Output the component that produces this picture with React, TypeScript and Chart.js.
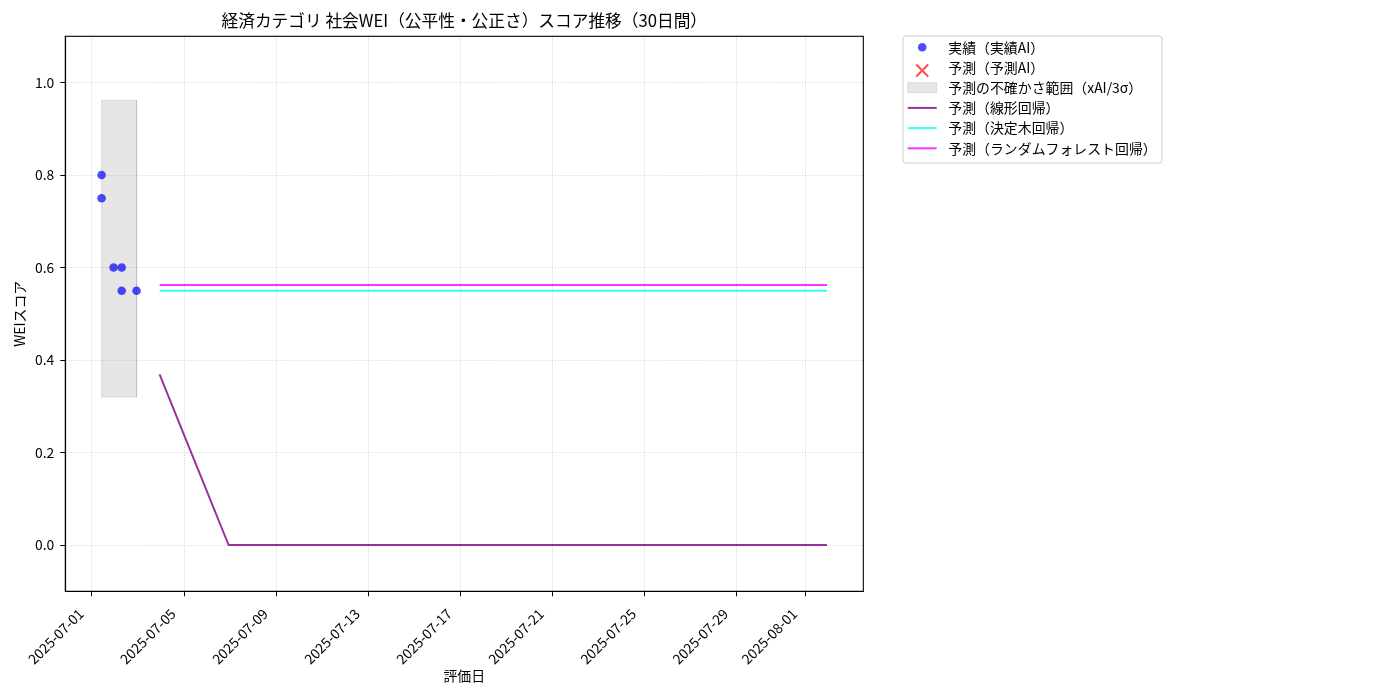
import React, { useEffect, useRef } from "react";
import { Chart, registerables } from "chart.js";

Chart.register(...registerables);

const FONT = '"Noto Sans CJK JP", "Noto Sans", sans-serif';

const chartTitle = "経済カテゴリ 社会WEI（公平性・公正さ）スコア推移（30日間）";
const xAxisTitle = "評価日";
const yAxisTitle = "WEIスコア";

// 実績（実績AI）
const actualDates = [
  "2025-07-01T10:00",
  "2025-07-01T10:00",
  "2025-07-01T22:30",
  "2025-07-02T07:00",
  "2025-07-02T07:00",
  "2025-07-02T22:30",
];
const actualScores = [0.8, 0.75, 0.6, 0.6, 0.55, 0.55];

// 予測（予測AI） - nothing plotted
const predictedDates: string[] = [];
const predictedScores: number[] = [];

// 不確かさ範囲
const bandDates = ["2025-07-01T10:00", "2025-07-02T22:30"];
const bandLower = 0.32;
const bandUpper = 0.962;

// 予測 30日
const forecastDates = [
  "2025-07-03T22:30", "2025-07-04T22:30", "2025-07-05T22:30", "2025-07-06T22:30",
  "2025-07-07T22:30", "2025-07-08T22:30", "2025-07-09T22:30", "2025-07-10T22:30",
  "2025-07-11T22:30", "2025-07-12T22:30", "2025-07-13T22:30", "2025-07-14T22:30",
  "2025-07-15T22:30", "2025-07-16T22:30", "2025-07-17T22:30", "2025-07-18T22:30",
  "2025-07-19T22:30", "2025-07-20T22:30", "2025-07-21T22:30", "2025-07-22T22:30",
  "2025-07-23T22:30", "2025-07-24T22:30", "2025-07-25T22:30", "2025-07-26T22:30",
  "2025-07-27T22:30", "2025-07-28T22:30", "2025-07-29T22:30", "2025-07-30T22:30",
  "2025-07-31T22:30", "2025-08-01T22:30",
];
const forecastLinear = [
  0.369, 0.246, 0.123, 0, 0, 0, 0, 0, 0, 0,
  0, 0, 0, 0, 0, 0, 0, 0, 0, 0,
  0, 0, 0, 0, 0, 0, 0, 0, 0, 0,
];
const forecastTree = [
  0.55, 0.55, 0.55, 0.55, 0.55, 0.55, 0.55, 0.55, 0.55, 0.55,
  0.55, 0.55, 0.55, 0.55, 0.55, 0.55, 0.55, 0.55, 0.55, 0.55,
  0.55, 0.55, 0.55, 0.55, 0.55, 0.55, 0.55, 0.55, 0.55, 0.55,
];
const forecastForest = [
  0.5625, 0.5625, 0.5625, 0.5625, 0.5625, 0.5625, 0.5625, 0.5625, 0.5625, 0.5625,
  0.5625, 0.5625, 0.5625, 0.5625, 0.5625, 0.5625, 0.5625, 0.5625, 0.5625, 0.5625,
  0.5625, 0.5625, 0.5625, 0.5625, 0.5625, 0.5625, 0.5625, 0.5625, 0.5625, 0.5625,
];

const xTickLabels = [
  "2025-07-01", "2025-07-05", "2025-07-09", "2025-07-13", "2025-07-17",
  "2025-07-21", "2025-07-25", "2025-07-29", "2025-08-01",
];
const yTickValues = [0, 0.2, 0.4, 0.6, 0.8, 1.0];
const yMin = -0.1;
const yMax = 1.1;

// days since 2025-07-01 00:00
const ORIGIN = Date.parse("2025-07-01T00:00:00Z");
const toDay = (s: string) => {
  const iso = s.length === 10 ? s + "T00:00" : s;
  return (Date.parse(iso + ":00Z") - ORIGIN) / 86400000;
};

const pts = (dates: string[], vals: number[]) =>
  dates.map((d, i) => ({ x: toDay(d), y: vals[i] }));

// matplotlib style 5% x margin
const allX = [...actualDates, ...forecastDates].map(toDay);
const xLo = Math.min(...allX);
const xHi = Math.max(...allX);
const xPad = (xHi - xLo) * 0.05;

const gridColor = "rgba(176,176,176,0.7)";

const titlePlugin = {
  id: "mplTitle",
  afterDraw(chart: any) {
    const { ctx, chartArea } = chart;
    ctx.save();
    ctx.font = `16.7px ${FONT}`;
    ctx.fillStyle = "#000";
    ctx.textAlign = "center";
    ctx.textBaseline = "middle";
    ctx.fillText(chartTitle, (chartArea.left + chartArea.right) / 2, 21);
    ctx.restore();
  },
};

const framePlugin = {
  id: "mplFrame",
  afterDatasetsDraw(chart: any) {
    const { ctx, chartArea } = chart;
    ctx.save();
    ctx.strokeStyle = "#000";
    ctx.lineWidth = 1.1;
    ctx.strokeRect(
      chartArea.left,
      chartArea.top,
      chartArea.right - chartArea.left,
      chartArea.bottom - chartArea.top
    );
    ctx.restore();
  },
};

const legendPlugin = {
  id: "mplLegend",
  afterDraw(chart: any) {
    const ctx = chart.ctx;
    const bx = 903, by = 36, bw = 259, bh = 127, r = 3;
    ctx.save();
    ctx.beginPath();
    ctx.moveTo(bx + r, by);
    ctx.arcTo(bx + bw, by, bx + bw, by + bh, r);
    ctx.arcTo(bx + bw, by + bh, bx, by + bh, r);
    ctx.arcTo(bx, by + bh, bx, by, r);
    ctx.arcTo(bx, by, bx + bw, by, r);
    ctx.closePath();
    ctx.fillStyle = "rgba(255,255,255,0.8)";
    ctx.fill();
    ctx.strokeStyle = "#cccccc";
    ctx.lineWidth = 1;
    ctx.stroke();

    const h0 = 907.7, h1 = 936.7, hc = (h0 + h1) / 2;
    chart.data.datasets.forEach((ds: any, i: number) => {
      const cy = by + 11.3 + i * 20.2;
      if (ds.legendKind === "dot") {
        ctx.beginPath();
        ctx.arc(hc, cy, 4.3, 0, Math.PI * 2);
        ctx.fillStyle = ds.backgroundColor;
        ctx.fill();
      } else if (ds.legendKind === "cross") {
        ctx.beginPath();
        ctx.moveTo(hc - 6, cy - 6 + 3);
        ctx.lineTo(hc + 6, cy + 6 + 3);
        ctx.moveTo(hc + 6, cy - 6 + 3);
        ctx.lineTo(hc - 6, cy + 6 + 3);
        ctx.strokeStyle = ds.borderColor;
        ctx.lineWidth = 2;
        ctx.stroke();
      } else if (ds.legendKind === "patch") {
        ctx.fillStyle = ds.backgroundColor;
        ctx.fillRect(h0, cy - 5, h1 - h0, 10);
        ctx.strokeStyle = ds.borderColor;
        ctx.lineWidth = 1;
        ctx.strokeRect(h0, cy - 5, h1 - h0, 10);
      } else {
        ctx.beginPath();
        ctx.moveTo(h0, cy);
        ctx.lineTo(h1, cy);
        ctx.strokeStyle = ds.borderColor;
        ctx.lineWidth = 2;
        ctx.stroke();
      }
      ctx.fillStyle = "#000";
      ctx.font = `13.9px ${FONT}`;
      ctx.textAlign = "left";
      ctx.textBaseline = "middle";
      ctx.fillText(ds.label, 948.3, cy);
    });
    ctx.restore();
  },
};

const App: React.FC = () => {
  const canvasRef = useRef<HTMLCanvasElement>(null);
  const chartRef = useRef<Chart | null>(null);

  useEffect(() => {
    if (!canvasRef.current) return;
    if (chartRef.current) chartRef.current.destroy();

    Chart.defaults.font.family = FONT;
    Chart.defaults.font.size = 13.9;
    Chart.defaults.color = "#000";

    const bx0 = toDay(bandDates[0]);
    const bx1 = toDay(bandDates[1]);

    const datasets: any[] = [
      {
        label: "実績（実績AI）",
        legendKind: "dot",
        data: pts(actualDates, actualScores),
        showLine: false,
        pointRadius: 4.3,
        pointBorderWidth: 0,
        backgroundColor: "rgba(0,0,255,0.7)",
        borderColor: "rgba(0,0,255,0.7)",
      },
      {
        label: "予測（予測AI）",
        legendKind: "cross",
        data: pts(predictedDates, predictedScores),
        showLine: false,
        pointStyle: "crossRot",
        pointRadius: 6,
        pointBorderWidth: 2,
        backgroundColor: "rgba(255,0,0,0.7)",
        borderColor: "rgba(255,0,0,0.7)",
      },
      {
        label: "予測の不確かさ範囲（xAI/3σ）",
        legendKind: "patch",
        data: [
          { x: bx0, y: bandLower },
          { x: bx0, y: bandUpper },
          { x: bx1, y: bandUpper },
          { x: bx1, y: bandLower },
          { x: bx0, y: bandLower },
        ],
        fill: "shape",
        pointRadius: 0,
        borderWidth: 1,
        backgroundColor: "rgba(128,128,128,0.2)",
        borderColor: "rgba(128,128,128,0.2)",
      },
      {
        label: "予測（線形回帰）",
        legendKind: "line",
        data: pts(forecastDates, forecastLinear),
        pointRadius: 0,
        borderWidth: 2,
        borderColor: "rgba(128,0,128,0.8)",
        fill: false,
      },
      {
        label: "予測（決定木回帰）",
        legendKind: "line",
        data: pts(forecastDates, forecastTree),
        pointRadius: 0,
        borderWidth: 2,
        borderColor: "rgba(0,255,255,0.8)",
        fill: false,
      },
      {
        label: "予測（ランダムフォレスト回帰）",
        legendKind: "line",
        data: pts(forecastDates, forecastForest),
        pointRadius: 0,
        borderWidth: 2,
        borderColor: "rgba(255,0,255,0.8)",
        fill: false,
      },
    ];

    const font = { family: FONT, size: 13.9 };

    chartRef.current = new Chart(canvasRef.current, {
      type: "line",
      data: { datasets },
      options: {
        responsive: false,
        animation: false,
        devicePixelRatio: 1,
        layout: { padding: { top: 36.3, right: 536.7, bottom: 0, left: 0 } },
        plugins: {
          legend: { display: false },
          title: { display: false },
          tooltip: { enabled: false },
        },
        scales: {
          x: {
            type: "linear",
            min: xLo - xPad,
            max: xHi + xPad,
            afterBuildTicks: (s: any) => {
              s.ticks = xTickLabels.map((d) => ({ value: toDay(d) }));
            },
            afterFit: (s: any) => {
              s.height = 108.7;
            },
            ticks: {
              autoSkip: false,
              maxRotation: 45,
              minRotation: 45,
              padding: 9,
              labelOffset: -11,
              font,
              color: "#000",
              callback: (_v: any, i: number) => xTickLabels[i],
            },
            grid: {
              color: gridColor,
              lineWidth: 0.8,
              tickColor: "#000",
              tickLength: 5,
              tickWidth: 1,
            },
            border: { color: "#000", width: 1.1, dash: [1, 1.6] },
            title: {
              display: true,
              text: xAxisTitle,
              font,
              color: "#000",
              padding: { top: 0, bottom: 15.7 },
            },
          },
          y: {
            type: "linear",
            min: yMin,
            max: yMax,
            afterBuildTicks: (s: any) => {
              s.ticks = yTickValues.map((v) => ({ value: v }));
            },
            afterFit: (s: any) => {
              s.width = 65.3;
            },
            ticks: {
              padding: 6,
              font,
              color: "#000",
              callback: (v: any) => Number(v).toFixed(1),
            },
            grid: {
              color: gridColor,
              lineWidth: 0.8,
              tickColor: "#000",
              tickLength: 5,
              tickWidth: 1,
            },
            border: { color: "#000", width: 1.1, dash: [1, 1.6] },
            title: {
              display: true,
              text: yAxisTitle,
              font,
              color: "#000",
              padding: { top: 11, bottom: 0 },
            },
          },
        },
      },
      plugins: [titlePlugin, framePlugin, legendPlugin],
    } as any);

    return () => {
      if (chartRef.current) {
        chartRef.current.destroy();
        chartRef.current = null;
      }
    };
  }, []);

  return (
    <div style={{ position: "absolute", left: 0, top: 0, width: 1400, height: 700, background: "#fff" }}>
      <canvas ref={canvasRef} width={1400} height={700} style={{ width: 1400, height: 700 }} />
    </div>
  );
};

export default App;
